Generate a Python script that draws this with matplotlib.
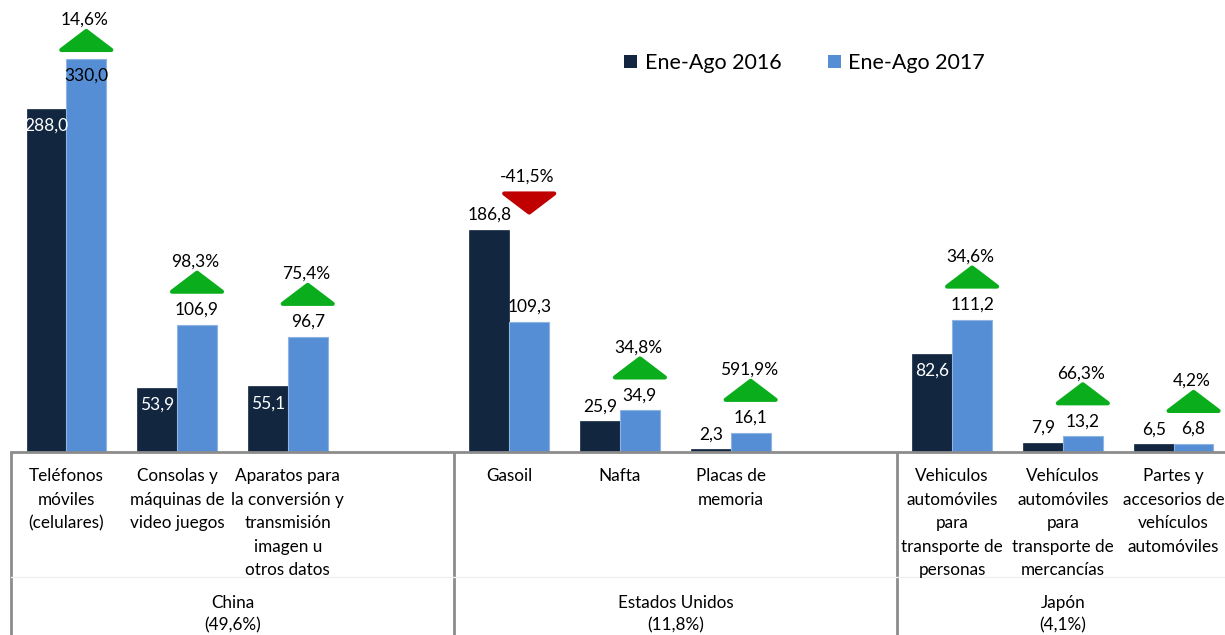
import numpy as np
import matplotlib
matplotlib.use("Agg")
import matplotlib.pyplot as plt
from matplotlib.patches import Polygon, Patch
from matplotlib import transforms

# --- Data ---
countries = ["China\n(49,6%)", "Estados Unidos\n(11,8%)", "Japón\n(4,1%)"]
products = [
    ["Teléfonos\nmóviles\n(celulares)",
     "Consolas y\nmáquinas de\nvideo juegos",
     "Aparatos para\nla conversión y\ntransmisión\nimagen u\notros datos"],
    ["Gasoil", "Nafta", "Placas de\nmemoria"],
    ["Vehiculos\nautomóviles\npara\ntransporte de\npersonas",
     "Vehículos\nautomóviles\npara\ntransporte de\nmercancías",
     "Partes y\naccesorios de\nvehículos\nautomóviles"],
]
vals_2016 = [288.0, 53.9, 55.1, 186.8, 25.9, 2.3, 82.6, 7.9, 6.5]
vals_2017 = [330.0, 106.9, 96.7, 109.3, 34.9, 16.1, 111.2, 13.2, 6.8]
var_pct = [14.6, 98.3, 75.4, -41.5, 34.8, 591.9, 34.6, 66.3, 4.2]
series_names = ["Ene-Ago 2016", "Ene-Ago 2017"]

# label placement (style): which value labels sit inside the bar
inside_2016 = [True, True, True, False, False, False, True, False, False]
inside_2017 = [True, False, False, False, False, False, False, False, False]

C16 = "#13263f"
C17 = "#558ed5"
GREEN = "#0aae1c"
RED = "#c00000"
GRID = "#8c8c8c"
FONT = "Lato"

def fmt(v, dec=1):
    return f"{v:.{dec}f}".replace(".", ",")

W, H = 1225, 635
fig = plt.figure(figsize=(W / 100, H / 100), dpi=100)
base_px = 452
ax = fig.add_axes([11 / W, 1 - base_px / H, (1229 - 11) / W, base_px / H])
ax.set_xlim(-0.5, 10.5)
ax.set_ylim(0, 379.5)
for s in ["top", "right", "left"]:
    ax.spines[s].set_visible(False)
ax.spines["bottom"].set_color(GRID)
ax.spines["bottom"].set_linewidth(2)
ax.set_xticks([])
ax.set_yticks([])

# slot positions: 3 groups of 3, with an empty slot between groups
pos = []
for g in range(3):
    for k in range(3):
        pos.append(g * 4 + k)
pos = np.array(pos, dtype=float)
bw = 0.36

ax.bar(pos - bw / 2, vals_2016, bw, color=C16, edgecolor=C16, linewidth=0.5, zorder=2)
ax.bar(pos + bw / 2, vals_2017, bw, color=C17, edgecolor="#8fb4e3", linewidth=0.8, zorder=2)

# value labels
for i, x in enumerate(pos):
    for v, dx, inside in [(vals_2016[i], -bw / 2, inside_2016[i]), (vals_2017[i], bw / 2, inside_2017[i])]:
        if inside:
            col = "white" if dx < 0 else "black"
            ax.annotate(fmt(v), (x + dx, v), xytext=(0, -17), textcoords="offset pixels",
                        ha="center", va="center", fontsize=12.5, color=col, family=FONT)
        else:
            ax.annotate(fmt(v), (x + dx, v), xytext=(0, 15), textcoords="offset pixels",
                        ha="center", va="center", fontsize=12.5, color="black", family=FONT)

# variation arrows (shape in inches, anchored in data coords)
tw, th = 0.25, 0.19
for i, x in enumerate(pos):
    xa = x + bw / 2
    if inside_2017[i]:
        top = vals_2017[i]
        gap = 0.09
    else:
        top = max(vals_2016[i], vals_2017[i])
        gap = 0.33 if var_pct[i] >= 0 else 0.17
    tr = fig.dpi_scale_trans + transforms.ScaledTranslation(xa, top, ax.transData)
    if var_pct[i] >= 0:
        verts = [(-tw, gap), (0, gap + th), (tw, gap)]
        col = GREEN
        ty = gap + th + 0.11
    else:
        verts = [(-tw, gap + th), (0, gap), (tw, gap + th)]
        col = RED
        ty = gap + th + 0.17
    tri = Polygon(verts, closed=True, facecolor=col, edgecolor=col, linewidth=3,
                  joinstyle="round", transform=tr, clip_on=False, zorder=3)
    ax.add_patch(tri)
    ax.text(-0.02, ty, fmt(var_pct[i]) + "%", transform=tr, ha="center", va="center",
            fontsize=12.5, family=FONT)

# category table below the axis
bt = transforms.blended_transform_factory(ax.transData, fig.transFigure)
for xs in [-0.5, 3.5, 7.5]:
    ax.plot([xs, xs], [1 - base_px / H, 0], transform=bt, color=GRID, lw=2,
            clip_on=False, solid_capstyle="butt")
ax.plot([-0.5, 10.5], [1 - 577 / H, 1 - 577 / H], transform=bt, color="#f0f0f0",
        lw=1, clip_on=False)

for g in range(3):
    for k in range(3):
        ax.text(g * 4 + k, 1 - 468 / H, products[g][k], transform=bt, ha="center", va="top",
                fontsize=12.3, linespacing=1.58, family=FONT)
    ax.text(g * 4 + 1.5 if g < 2 else 9, 1 - 614 / H, countries[g], transform=bt,
            ha="center", va="center", fontsize=12.3, linespacing=1.5, family=FONT)

handles = [Patch(facecolor=C16), Patch(facecolor=C17)]
fig.legend(handles, series_names, loc="center left", bbox_to_anchor=(605 / W, 1 - 63 / H),
           ncol=2, frameon=False, handlelength=0.6, handleheight=0.6, handletextpad=0.35,
           columnspacing=2.15, prop={"family": FONT, "size": 15.5})

fig.savefig("out.png", dpi=100)
